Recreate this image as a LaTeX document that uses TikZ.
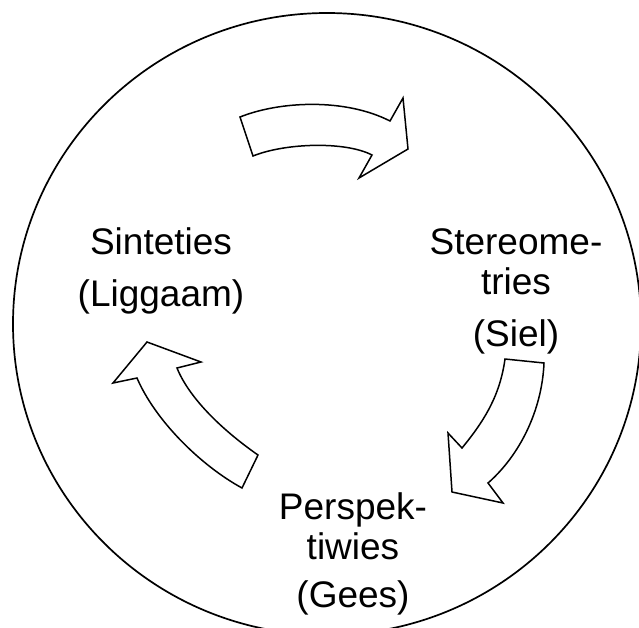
\documentclass[tikz,border=0pt]{standalone}
\usepackage{fontspec}
\setmainfont{Liberation Sans}
\usetikzlibrary{positioning}

\begin{document}
\begin{tikzpicture}[
  x=1pt, y=-1pt,
  lbl/.style={align=center, inner sep=0pt, anchor=base,
    font=\fontsize{37}{40}\selectfont},
  blk/.style={draw, line width=1.5pt, line join=miter, fill=white}
]
\useasboundingbox (0,0) rectangle (639,627);
\clip (0,0) rectangle (639,627);
\draw[line width=1.7pt] (327,324) ellipse [x radius=314pt, y radius=311pt];

% base anchor sits on the last line
\node[lbl] (synth) at (161,306) {Sinteties\\[12pt](Liggaam)};
\node[lbl] (stereo) at (516,346) {Stereome-\\tries\\[12pt](Siel)};
\node[lbl] (persp) at (353,607) {Perspek-\\tiwies\\[8pt](Gees)};

% curved block arrows
\draw[blk] (240,117) .. controls (280,101) and (345,98) .. (390,121)
  -- (403,98) -- (408,149) -- (359,178) -- (372,155)
  .. controls (345,141) and (285,143) .. (253,156) -- cycle;
\draw[blk] (544,363) -- (505,359) .. controls (500,395) and (485,420) .. (462,448)
  -- (448,433) -- (452,492) -- (503,503) -- (488,483)
  .. controls (520,455) and (542,410) .. (544,363) -- cycle;
\draw[blk] (258,455) .. controls (225,432) and (190,400) .. (177,368)
  -- (201,362) -- (147,342) -- (113,383) -- (137,378)
  .. controls (155,420) and (200,465) .. (242,488) -- cycle;
\end{tikzpicture}
\end{document}
